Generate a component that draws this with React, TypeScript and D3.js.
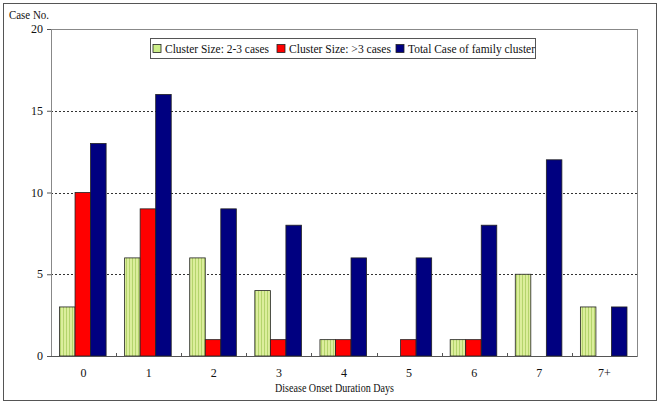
import React from "react";
import * as d3 from "d3";

const categories = ["0", "1", "2", "3", "4", "5", "6", "7", "7+"];
const smallCluster = [3, 6, 6, 4, 1, 0, 1, 5, 3];
const largeCluster = [10, 9, 1, 1, 1, 1, 1, 0, 0];
const totalCases = [13, 16, 9, 8, 6, 6, 8, 12, 3];
const yTicks = [0, 5, 10, 15, 20];
const seriesNames = [
  "Cluster Size: 2-3 cases",
  "Cluster Size: >3 cases",
  "Total Case of family cluster",
];

const W = 661;
const H = 406;
const m = { left: 51, right: 24, top: 29, bottom: 50 };
const font = "Liberation Serif, Times New Roman, DejaVu Serif, serif";

const App = () => {
  const x = d3
    .scaleBand()
    .domain(categories)
    .range([m.left, W - m.right]);
  const inner = d3
    .scaleBand()
    .domain(["a", "b", "c"])
    .range([8.5, x.bandwidth() - 10]);
  const y = d3
    .scaleLinear()
    .domain([0, 20])
    .range([H - m.bottom, m.top]);

  const series = [
    { key: "a", values: smallCluster, fill: "url(#stripes)" },
    { key: "b", values: largeCluster, fill: "#ff0000" },
    { key: "c", values: totalCases, fill: "#000080" },
  ];

  // legend layout (swatch x, text width)
  const legendX = [153, 277, 396];
  const legendW = [104, 102, 127];
  const legendFill = ["#ccee88", "#ff0000", "#000080"];

  return (
    <svg width={W} height={H} style={{ position: "absolute", left: 0, top: 0 }}>
      <defs>
        <pattern id="stripes" width="3" height="4" patternUnits="userSpaceOnUse">
          <rect width="3" height="4" fill="#dcee9c" />
          <rect width="1" height="4" fill="#b4d46c" />
        </pattern>
      </defs>
      <rect x={0} y={0} width={W} height={H} fill="#fff" />
      <rect x={3.5} y={3.5} width={653} height={397} fill="none" stroke="#555" strokeWidth={1} />

      {/* grid */}
      {yTicks.slice(1, 4).map((t) => (
        <line
          key={t}
          x1={m.left}
          x2={W - m.right}
          y1={Math.round(y(t)) + 0.5}
          y2={Math.round(y(t)) + 0.5}
          stroke="#333"
          strokeDasharray="2,2"
        />
      ))}

      {/* plot frame */}
      <rect
        x={m.left + 0.5}
        y={m.top + 0.5}
        width={W - m.right - m.left}
        height={H - m.bottom - m.top}
        fill="none"
        stroke="#888"
      />

      {/* bars */}
      {series.map((s) =>
        s.values.map((v, i) =>
          v > 0 ? (
            <rect
              key={s.key + i}
              x={(x(categories[i]) as number) + (inner(s.key) as number)}
              y={y(v)}
              width={inner.bandwidth()}
              height={y(0) - y(v)}
              fill={s.fill}
              stroke="#222"
              strokeWidth={0.8}
            />
          ) : null
        )
      )}

      {/* axes */}
      <line x1={m.left + 0.5} x2={m.left + 0.5} y1={m.top} y2={y(0)} stroke="#888" />
      <line x1={m.left} x2={W - m.right} y1={y(0) + 0.5} y2={y(0) + 0.5} stroke="#555" />
      {categories.slice(1).map((c) => (
        <line
          key={c}
          x1={Math.round(x(c) as number) + 0.5}
          x2={Math.round(x(c) as number) + 0.5}
          y1={y(0) - 3}
          y2={y(0)}
          stroke="#555"
        />
      ))}
      {yTicks.map((t) => (
        <g key={t}>
          <line x1={m.left - 4} x2={m.left} y1={y(t) + 0.5} y2={y(t) + 0.5} stroke="#555" />
          <text x={43} y={y(t) + 4} textAnchor="end" fontSize={12} fontFamily={font} fill="#111">
            {t}
          </text>
        </g>
      ))}
      {categories.map((c) => (
        <text
          key={c}
          x={(x(c) as number) + x.bandwidth() / 2}
          y={377}
          textAnchor="middle"
          fontSize={12}
          fontFamily={font}
          fill="#111"
        >
          {c}
        </text>
      ))}
      <text
        x={275}
        y={392}
        fontSize={12}
        fontFamily={font}
        fill="#111"
        textLength={119}
        lengthAdjust="spacingAndGlyphs"
      >
        Disease Onset Duration Days
      </text>
      <text
        x={9}
        y={19}
        fontSize={12}
        fontFamily={font}
        fill="#111"
        textLength={40}
        lengthAdjust="spacingAndGlyphs"
      >
        Case No.
      </text>

      {/* legend */}
      <rect x={150.5} y={38.5} width={385} height={20} fill="#fff" stroke="#555" />
      {seriesNames.map((n, i) => (
        <g key={n}>
          <rect
            x={legendX[i]}
            y={44.5}
            width={8}
            height={8}
            fill={legendFill[i]}
            stroke="#222"
            strokeWidth={0.8}
          />
          <text
            x={legendX[i] + 12}
            y={53}
            fontSize={12}
            fontFamily={font}
            fill="#111"
            textLength={legendW[i]}
            lengthAdjust="spacingAndGlyphs"
          >
            {n}
          </text>
        </g>
      ))}
    </svg>
  );
};

export default App;
